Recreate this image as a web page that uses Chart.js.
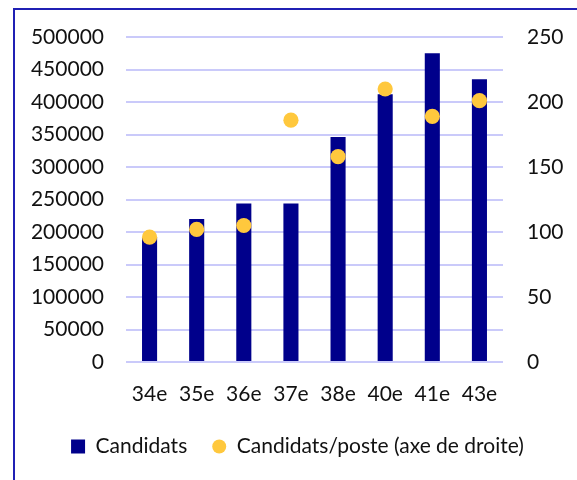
<!DOCTYPE html>
<html>
<head>
<meta charset="utf-8">
<script src="https://cdn.jsdelivr.net/npm/chart.js@4.4.1/dist/chart.umd.min.js"></script>
<style>
  html, body { margin: 0; padding: 0; background: #fff; overflow: hidden; }
  #wrap { position: relative; width: 577px; height: 480px; }
  #frame { position: absolute; left: 13px; top: 8px; width: 700px; height: 600px;
           border: 2px solid #2020b4; box-sizing: border-box; pointer-events: none; }
</style>
</head>
<body>
<div id="wrap">
  <canvas id="c" width="577" height="480"></canvas>
  <div id="frame"></div>
</div>
<script>
var sessions = ['34e', '35e', '36e', '37e', '38e', '40e', '41e', '43e'];
var candidats = [192000, 220000, 244000, 244000, 346000, 412000, 475000, 435000];
var parPoste = [96, 102, 105, 186, 158, 210, 189, 201];

var barColor = '#00008b';
var dotColor = '#ffc83d';
var gridColor = '#cacafa';
var textColor = '#111';
var fontFamily = 'Lato, "Open Sans", sans-serif';

var ctx = document.getElementById('c');
var chart = new Chart(ctx, {
  type: 'bar',
  data: {
    labels: sessions,
    datasets: [
      {
        type: 'line',
        label: 'Candidats/poste (axe de droite)',
        data: parPoste,
        yAxisID: 'y2',
        showLine: false,
        pointRadius: 7.6,
        pointHoverRadius: 7.6,
        pointBorderWidth: 0,
        borderWidth: 0,
        backgroundColor: dotColor,
        borderColor: dotColor,
        order: 1
      },
      {
        label: 'Candidats',
        data: candidats,
        yAxisID: 'y',
        backgroundColor: barColor,
        borderWidth: 0,
        barPercentage: 0.32,
        categoryPercentage: 1,
        order: 2
      }
    ]
  },
  options: {
    responsive: false,
    animation: false,
    layout: {
      padding: { left: 31, right: 13, top: 37, bottom: 13 }
    },
    scales: {
      x: {
        grid: { display: false, drawTicks: false },
        border: { display: false },
        ticks: { color: textColor, font: { family: fontFamily, size: 21 }, padding: 20,
                 maxRotation: 0, minRotation: 0, autoSkip: false },
        afterFit: function (scale) { scale.height = 49; }
      },
      y: {
        position: 'left',
        min: 0,
        max: 500000,
        grid: { color: gridColor, lineWidth: 2, drawTicks: false },
        border: { display: false },
        ticks: { stepSize: 50000, color: textColor, font: { family: fontFamily, size: 21 }, padding: 22,
                 callback: function (v) { return String(v); } },
        afterFit: function (scale) { scale.width = 95; }
      },
      y2: {
        position: 'right',
        min: 0,
        max: 250,
        grid: { display: false, drawTicks: false },
        border: { display: false },
        ticks: { stepSize: 50, color: textColor, font: { family: fontFamily, size: 21 }, padding: 24,
                 callback: function (v) { return String(v); } },
        afterFit: function (scale) { scale.width = 61; }
      }
    },
    plugins: {
      tooltip: { enabled: false },
      legend: {
        position: 'bottom',
        reverse: true,
        labels: {
          color: textColor,
          font: { family: fontFamily, size: 21 },
          boxWidth: 14,
          boxHeight: 14,
          padding: 25,
          useBorderRadius: true,
          generateLabels: function (chart) {
            var items = Chart.defaults.plugins.legend.labels.generateLabels(chart);
            items.forEach(function (it) {
              var ds = chart.data.datasets[it.datasetIndex];
              it.fillStyle = ds.backgroundColor;
              it.strokeStyle = ds.backgroundColor;
              it.lineWidth = 0;
              it.borderRadius = ds.type === 'line' ? 7 : 0;
            });
            return items;
          }
        }
      }
    }
  }
});
</script>
</body>
</html>
